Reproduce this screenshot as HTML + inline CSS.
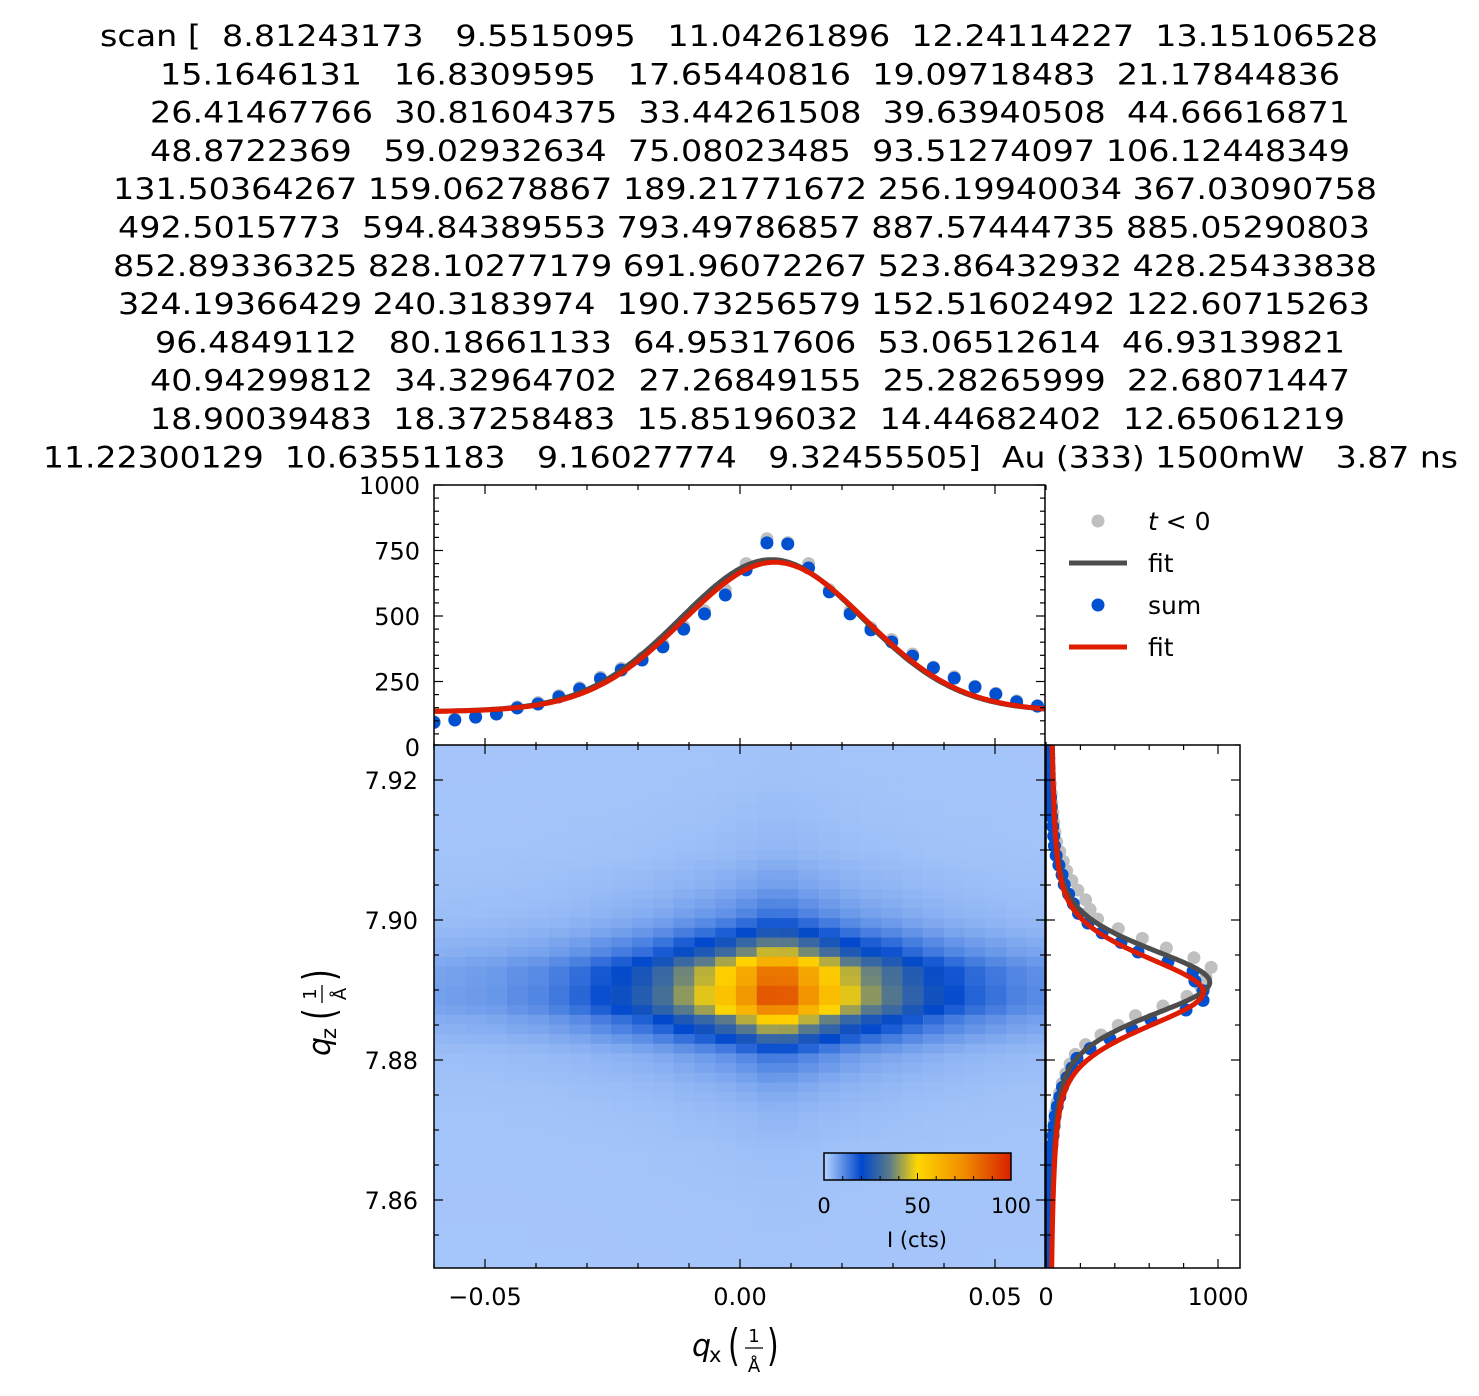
<!DOCTYPE html>
<html><head><meta charset="utf-8">
<style>
html,body{margin:0;padding:0;background:#fff;}
svg{display:block;font-family:"DejaVu Sans","Liberation Sans",sans-serif;}
text{white-space:pre;}
</style></head>
<body>
<svg id="chart" width="1479" height="1396" viewBox="0 0 1479 1396" xmlns="http://www.w3.org/2000/svg">
<g id="title" font-size="29" fill="#000"></g>
<g id="top"></g>
<g id="heat"></g>
<g id="right"></g>
<g id="legend"></g>
</svg>
<script>
// ---- data ----
const titleLines = [
"scan [  8.81243173   9.5515095   11.04261896  12.24114227  13.15106528",
"15.1646131   16.8309595   17.65440816  19.09718483  21.17844836",
"26.41467766  30.81604375  33.44261508  39.63940508  44.66616871",
"48.8722369   59.02932634  75.08023485  93.51274097 106.12448349",
"131.50364267 159.06278867 189.21771672 256.19940034 367.03090758",
"492.5015773  594.84389553 793.49786857 887.57444735 885.05290803",
"852.89336325 828.10277179 691.96072267 523.86432932 428.25433838",
"324.19366429 240.3183974  190.73256579 152.51602492 122.60715263",
"96.4849112   80.18661133  64.95317606  53.06512614  46.93139821",
"40.94299812  34.32964702  27.26849155  25.28265999  22.68071447",
"18.90039483  18.37258483  15.85196032  14.44682402  12.65061219",
"11.22300129  10.63551183   9.16027774   9.32455505]  Au (333) 1500mW   3.87 ns"];
const qxStart = -0.06, qxStep = 0.00408;
const sumX = [94,103,114,126,149,164,191,221,260,294,332,382,450,508,580,676,779,775,683,592,508,447,401,347,302,263,229,202,172,156,134];
const grayX = [98,106,117,130,153,170,196,226,266,300,340,392,460,520,600,700,795,780,700,600,520,455,410,355,305,268,232,205,176,158,138];
const qzStart = 7.9313, qzStep = -0.00138;
const sumZ = [8.8,9.6,11,12.2,13.2,15.2,16.8,17.7,19.1,21.2,26.4,30.8,33.4,39.6,44.7,48.9,59,75,93.5,106,131.5,159,189,244,326,436,535,709,855,866,913,913,814,610,500,372,256,180,151,122,96,80,65,53,47,41,34,27,25,23,19,18,16,14,13,11,11,9,9];
const grayZ = [9,10,11,12,14,15,17,19,21,26,31,34,40,45,52,62,80,100,120,150,185,230,256,300,420,560,700,860,960,930,900,820,680,520,420,320,230,170,140,115,94,79,64,53,47,41,34,27,25,22,19,18,16,14,12,11,10,9,9];
// fit parameters: [background, amplitude, center, fwhm, eta]
const fitXGray = [130, 585, 0.0062, 0.043, 0.1];
const fitXSum = [130, 575, 0.0068, 0.043, 0.1];
const fitZGray = [22, 930, 7.8911, 0.0120, 0.5];
const fitZSum = [22, 893, 7.8897, 0.0126, 0.5];
const qxTicks = [-0.05, 0.00, 0.05];
const qxTickLabels = ["\u22120.05", "0.00", "0.05"];
const iTicks = [0, 250, 500, 750, 1000];
const qzTicks = [7.86, 7.88, 7.90, 7.92];
const cbTicks = [0, 50, 100];

// ---- axes ----
const X = q => 740 + (q - 0) * 5100;
const Yt = v => 747 - v * 0.262;
const Z = q => 920 + (7.90 - q) * 7000;
const Xr = v => 1046 + v * 0.172;
const NS = "http://www.w3.org/2000/svg";
function el(tag, attrs, parent){const e=document.createElementNS(NS,tag);for(const k in attrs)e.setAttribute(k,attrs[k]);parent.appendChild(e);return e;}
function pv(q,p){const[b,a,c,w,eta]=p;const d=(q-c)/(w/2);const L=1/(1+d*d);const G=Math.exp(-Math.log(2)*d*d);return b+a*(eta*L+(1-eta)*G);}

// title
const tg=document.getElementById('title');
const lineX=[[100,1378],[160,1340],[150,1350],[150,1350],[113,1377],[118,1370],[113,1377],[118,1370],[155,1345],[150,1350],[150,1345],[43,1458]];
titleLines.forEach((s,i)=>{const t=el('text',{x:lineX[i][0],y:46+i*38.3,textLength:lineX[i][1]-lineX[i][0],lengthAdjust:'spacingAndGlyphs'},tg);t.textContent=s;

});

// colormap
const stops=[[0,[184,212,255]],[20,[0,72,204]],[35,[90,122,138]],[50,[255,215,0]],[75,[240,140,0]],[100,[216,32,0]]];
function cmap(v){v=Math.max(0,Math.min(100,v));for(let i=1;i<stops.length;i++){if(v<=stops[i][0]){const[a,ca]=stops[i-1],[b,cb]=stops[i];const f=(v-a)/(b-a);return 'rgb('+ca.map((c,k)=>Math.round(c+(cb[k]-c)*f)).join(',')+')';}}return 'rgb(216,32,0)';}

// heatmap
const hg=document.getElementById('heat');
el('clipPath',{id:'hclip'},hg).appendChild(document.createElementNS(NS,'rect'));
const cr=hg.querySelector('#hclip rect');cr.setAttribute('x',434);cr.setAttribute('y',745);cr.setAttribute('width',611);cr.setAttribute('height',523);
el('rect',{x:434,y:745,width:611,height:523,fill:'#aac9fb'},hg);
const cells=el('g',{'clip-path':'url(#hclip)'},hg);
const maxX=Math.max(...sumX), maxZ=Math.max(...sumZ);
sumZ.forEach((zv,j)=>{sumX.forEach((xv,i)=>{
 const xn=Math.max(0,(xv-80)/(maxX-80)), zn=zv/maxZ;
 const v=80*Math.pow(xn,1.4)*Math.pow(zn,1.3)+5*zn+2;
 const qx=qxStart+i*qxStep, qz=qzStart+j*qzStep;
 const r=el('rect',{x:X(qx)-10.2,y:Z(qz)-4.9,width:20.9,height:10.2,fill:cmap(v)},cells);
 
 
});});
el('rect',{x:434,y:745,width:611,height:523,fill:'none',stroke:'#000','stroke-width':1.5},hg);
for(let q=-0.06;q<=0.0601;q+=0.01){const x=X(q);const maj=Math.abs(q+0.05)<1e-6||Math.abs(q)<1e-6||Math.abs(q-0.05)<1e-6;const L=maj?9:5;
 el('line',{x1:x,x2:x,y1:1268,y2:1268-L,stroke:'#000','stroke-width':1.2},hg);el('line',{x1:x,x2:x,y1:745,y2:745+L,stroke:'#000','stroke-width':1.2},hg);}
for(let k=0;k<16;k++){const q=7.85+k*0.005;const y=Z(q);if(y<745||y>1268)continue;const maj=k%4===2;const L=maj?9:5;
 el('line',{x1:434,x2:434+L,y1:y,y2:y,stroke:'#000','stroke-width':1.2},hg);el('line',{x1:1045,x2:1045-L,y1:y,y2:y,stroke:'#000','stroke-width':1.2},hg);}
qxTicks.forEach((q,i)=>{const t=el('text',{x:X(q),y:1305,'font-size':24,'text-anchor':'middle'},hg);t.textContent=qxTickLabels[i];
 });
qzTicks.forEach(q=>{const t=el('text',{x:418,y:Z(q)+9,'font-size':24,'text-anchor':'end'},hg);t.textContent=q.toFixed(2);
 });
// axis titles
function axisTitle(g,sub){
 const a=el('text',{x:0,y:0,'font-size':30,'font-style':'italic'},g);a.textContent='q';
 const b=el('text',{x:17,y:6,'font-size':21},g);b.textContent=sub;
 const c=el('text',{x:36,y:4,'font-size':30,transform:'translate(36,4) scale(1,1.45) translate(-36,-4)'},g);c.textContent='(';
 const d=el('text',{x:62,y:-14,'font-size':18,'text-anchor':'middle'},g);d.textContent='1';
 el('line',{x1:53,x2:71,y1:-8,y2:-8,stroke:'#000','stroke-width':1.3},g);
 const e=el('text',{x:62,y:16,'font-size':18,'text-anchor':'middle'},g);e.textContent='Å';
 const f=el('text',{x:75,y:4,'font-size':30,transform:'translate(75,4) scale(1,1.45) translate(-75,-4)'},g);f.textContent=')';
}
const xtg=el('g',{transform:'translate(692,1356)'},hg);

axisTitle(xtg,'x');
const ytg=el('g',{transform:'translate(330,1056) rotate(-90)'},hg);

axisTitle(ytg,'z');
// colorbar
const defs=el('defs',{},hg);const lg=el('linearGradient',{id:'cbg',x1:0,x2:1,y1:0,y2:0},defs);
for(let v=0;v<=100;v+=5)el('stop',{offset:v+'%','stop-color':cmap(v)},lg);
const cb=el('rect',{x:824,y:1153,width:187,height:27,fill:'url(#cbg)',stroke:'#000','stroke-width':1.5},hg);

for(let v=10;v<100;v+=10){const x=824+v*1.87;el('line',{x1:x,x2:x,y1:1180,y2:1180-(v%50===0?7:4),stroke:'#000','stroke-width':1},hg);}
cbTicks.forEach(v=>{const t=el('text',{x:824+v*1.87,y:1213,'font-size':21,'text-anchor':'middle'},hg);t.textContent=v;
 });
const cbl=el('text',{x:917,y:1247,'font-size':21,'text-anchor':'middle'},hg);cbl.textContent='I (cts)';


// top panel
const tp=document.getElementById('top');
el('clipPath',{id:'tclip'},tp).appendChild(document.createElementNS(NS,'rect'));
const tr=tp.querySelector('#tclip rect');tr.setAttribute('x',434);tr.setAttribute('y',485);tr.setAttribute('width',611);tr.setAttribute('height',262);
const tpc=el('g',{'clip-path':'url(#tclip)'},tp);
grayX.forEach((v,i)=>{const c=el('circle',{cx:X(qxStart+i*qxStep),cy:Yt(v),r:6.5,fill:'#c0c0c0'},tpc);});
sumX.forEach((v,i)=>{const c=el('circle',{cx:X(qxStart+i*qxStep),cy:Yt(v),r:6.5,fill:'#0050d0'},tpc);});
function curveX(p){let d='';for(let k=0;k<=300;k++){const q=-0.06+k*0.12/300;d+=(k?'L':'M')+X(q).toFixed(1)+','+Yt(pv(q,p)).toFixed(1);}return d;}
let pth=el('path',{d:curveX(fitXGray),fill:'none',stroke:'#4d4d4d','stroke-width':5},tpc);
pth=el('path',{d:curveX(fitXSum),fill:'none',stroke:'#dd1c00','stroke-width':5},tpc);
el('rect',{x:434,y:485,width:611,height:262,fill:'none',stroke:'#000','stroke-width':1.5},tp);
for(let q=-0.06;q<=0.0601;q+=0.01){const x=X(q);const maj=Math.abs(q+0.05)<1e-6||Math.abs(q)<1e-6||Math.abs(q-0.05)<1e-6;const L=maj?9:5;
 el('line',{x1:x,x2:x,y1:747,y2:747-L,stroke:'#000','stroke-width':1.2},tp);el('line',{x1:x,x2:x,y1:485,y2:485+L,stroke:'#000','stroke-width':1.2},tp);}
for(let v=0;v<=1000;v+=50){const y=Yt(v);const L=v%250===0?9:5;
 el('line',{x1:434,x2:434+L,y1:y,y2:y,stroke:'#000','stroke-width':1.2},tp);el('line',{x1:1045,x2:1045-L,y1:y,y2:y,stroke:'#000','stroke-width':1.2},tp);}
iTicks.forEach(v=>{const t=el('text',{x:420,y:Yt(v)+9,'font-size':24,'text-anchor':'end'},tp);t.textContent=v;
 });

// right panel
const rp=document.getElementById('right');
el('clipPath',{id:'rclip'},rp).appendChild(document.createElementNS(NS,'rect'));
const rr=rp.querySelector('#rclip rect');rr.setAttribute('x',1046);rr.setAttribute('y',745);rr.setAttribute('width',194);rr.setAttribute('height',523);
const rpc=el('g',{'clip-path':'url(#rclip)'},rp);
grayZ.forEach((v,i)=>{const c=el('circle',{cx:Xr(v),cy:Z(qzStart+i*qzStep)-4,r:6.5,fill:'#c0c0c0'},rpc);});
sumZ.forEach((v,i)=>{const c=el('circle',{cx:Xr(v),cy:Z(qzStart+i*qzStep),r:6.5,fill:'#0050d0'},rpc);});
function curveZ(p){let d='';for(let k=0;k<=400;k++){const q=7.925-k*0.076/400;d+=(k?'L':'M')+Xr(pv(q,p)).toFixed(1)+','+Z(q).toFixed(1);}return d;}
pth=el('path',{d:curveZ(fitZGray),fill:'none',stroke:'#4d4d4d','stroke-width':5},rpc);
pth=el('path',{d:curveZ(fitZSum),fill:'none',stroke:'#dd1c00','stroke-width':5},rpc);
el('rect',{x:1046,y:745,width:194,height:523,fill:'none',stroke:'#000','stroke-width':1.5},rp);
for(let v=0;v<=1100;v+=200){const x=Xr(v);const L=v%1000===0?9:5;
 el('line',{x1:x,x2:x,y1:1268,y2:1268-L,stroke:'#000','stroke-width':1.2},rp);el('line',{x1:x,x2:x,y1:745,y2:745+L,stroke:'#000','stroke-width':1.2},rp);}
for(let k=0;k<16;k++){const q=7.85+k*0.005;const y=Z(q);if(y<745||y>1268)continue;const L=k%4===2?9:5;
 el('line',{x1:1046,x2:1046+L,y1:y,y2:y,stroke:'#000','stroke-width':1.2},rp);el('line',{x1:1240,x2:1240-L,y1:y,y2:y,stroke:'#000','stroke-width':1.2},rp);}
[0,1000].forEach(v=>{const t=el('text',{x:Xr(v),y:1305,'font-size':24,'text-anchor':'middle'},rp);t.textContent=v;
 });

// legend
const lgd=document.getElementById('legend');
function entry(y,kind,color,label,italic){
 const g=el('g',{},lgd);
 
 
 if(kind==='dot')el('circle',{cx:1098,cy:y,r:6.5,fill:color},g);else el('line',{x1:1069,x2:1127,y1:y,y2:y,stroke:color,'stroke-width':5},g);
 const t=el('text',{x:1148,y:y+9,'font-size':25},g);
 if(italic)t.innerHTML='<tspan font-style="italic">t</tspan> &lt; 0';else t.textContent=label;}
entry(521,'dot','#c0c0c0','t<0',true);
entry(563,'line','#4d4d4d','fit');
entry(605,'dot','#0050d0','sum');
entry(647,'line','#dd1c00','fit');
</script>
</body></html>
